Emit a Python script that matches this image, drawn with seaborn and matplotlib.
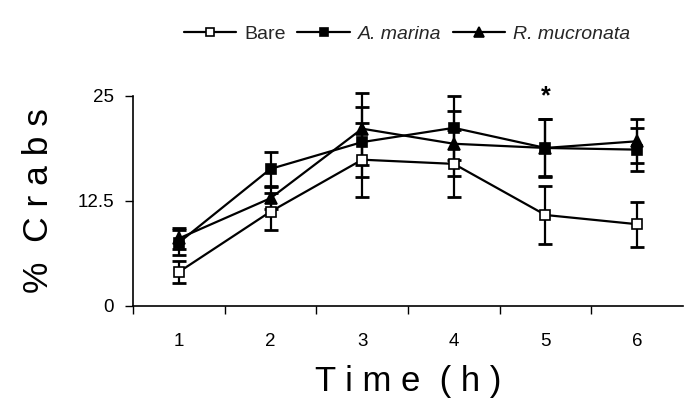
import matplotlib
matplotlib.use("Agg")
import matplotlib.pyplot as plt
import seaborn as sns
import pandas as pd
from matplotlib.ticker import FixedLocator

# Time points (h)
hours = [1, 2, 3, 4, 5, 6]

# Mean % crabs per habitat and their error bars
bare_mean = [4.0, 11.2, 17.4, 16.9, 10.8, 9.7]
bare_err = [1.3, 2.2, 4.4, 4.0, 3.5, 2.7]
marina_mean = [7.5, 16.3, 19.5, 21.2, 18.8, 18.6]
marina_err = [1.5, 2.0, 4.2, 3.8, 3.4, 2.6]
mucronata_mean = [8.0, 12.8, 21.1, 19.3, 18.8, 19.6]
mucronata_err = [1.2, 1.3, 4.3, 3.9, 3.5, 2.6]

series_names = ["Bare", "A. marina", "R. mucronata"]
y_ticks = [0, 12.5, 25]
y_tick_labels = ["0", "12.5", "25"]
signif_hour = 5

sns.set_theme(style="white")
plt.rcParams["font.family"] = ["Liberation Sans", "DejaVu Sans"]

df = pd.DataFrame({
    "hour": hours * 3,
    "pct": bare_mean + marina_mean + mucronata_mean,
    "err": bare_err + marina_err + mucronata_err,
    "habitat": [n for n in series_names for _ in hours],
})

fig = plt.figure(figsize=(6.85, 3.99), dpi=100)
ax = fig.add_axes([133 / 685, (399 - 305.5) / 399, 550 / 685, 209.5 / 399])

markers = {"Bare": "s", "A. marina": "s", "R. mucronata": "^"}
faces = {"Bare": "white", "A. marina": "black", "R. mucronata": "black"}

for name in series_names:
    sub = df[df["habitat"] == name]
    ax.errorbar(sub["hour"], sub["pct"], yerr=sub["err"], fmt="none",
                ecolor="black", elinewidth=1.6, capsize=5, capthick=2.0,
                zorder=2, clip_on=False)
    sns.lineplot(data=sub, x="hour", y="pct", ax=ax, color="black",
                 linewidth=1.6, marker=markers[name],
                 markersize=7.5 if name != "R. mucronata" else 8.5,
                 markerfacecolor=faces[name], markeredgecolor="black",
                 markeredgewidth=1.2, label=name, zorder=3, clip_on=False)

ax.set_xlim(0.5, 6.5)
ax.set_ylim(0, 25)

ax.xaxis.set_major_locator(FixedLocator(hours))
ax.xaxis.set_minor_locator(FixedLocator([0.5, 1.5, 2.5, 3.5, 4.5, 5.5]))
ax.set_xticklabels([str(h) for h in hours])
ax.set_yticks(y_ticks)
ax.set_yticklabels(y_tick_labels)
ax.tick_params(axis="x", which="major", length=0, pad=19.5, labelsize=13.5, colors="black")
ax.tick_params(axis="x", which="minor", direction="out", length=5.5, width=1.0, color="black", bottom=True)
ax.tick_params(axis="y", which="major", direction="out", length=5.5, width=1.0, pad=8,
               labelsize=13.5, colors="black", left=True)

for side in ["top", "right"]:
    ax.spines[side].set_visible(False)
for side in ["left", "bottom"]:
    ax.spines[side].set_color("black")
    ax.spines[side].set_linewidth(1.2)

ax.set_xlabel("T i m e  ( h )", fontsize=25, labelpad=11, color="black")
ax.set_ylabel("%  C r a b s", fontsize=25.5, labelpad=16, color="black")

ax.text(signif_hour, 25.0, "*", ha="center", va="center", fontsize=18,
        fontweight="bold", color="black")

leg = ax.legend(loc="center", bbox_to_anchor=(407 / 685, (399 - 34) / 399),
                bbox_transform=fig.transFigure, ncol=3, frameon=False,
                fontsize=14, handlelength=2.7, handletextpad=0.4,
                columnspacing=0.6, markerscale=0.8)
for t in leg.get_texts():
    if t.get_text() != "Bare":
        t.set_fontstyle("italic")

fig.savefig("out.png", dpi=100)
